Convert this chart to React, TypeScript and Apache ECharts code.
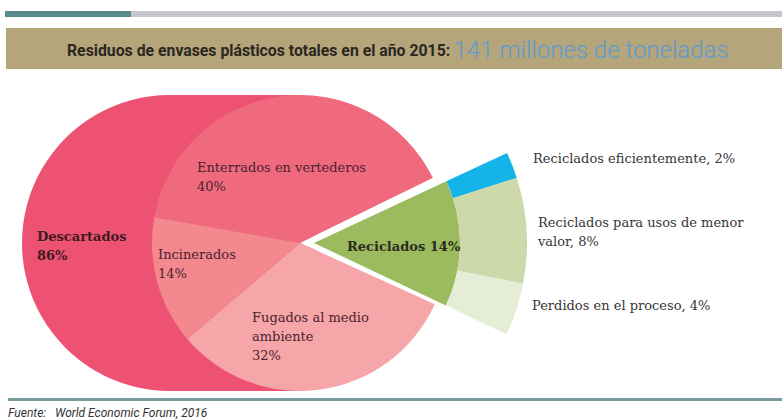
import React, { useEffect, useRef } from "react";
import * as echarts from "echarts";

// ---------- data ----------
const mainNames = ["Enterrados en vertederos", "Reciclados", "Fugados al medio ambiente", "Incinerados"];
const mainValues = [40, 14, 32, 14];
const discardedName = "Descartados";
const discardedValue = 86;
const recycledName = "Reciclados";
const recycledValue = 14;
const breakdownNames = ["Reciclados eficientemente", "Reciclados para usos de menor valor", "Perdidos en el proceso"];
const breakdownValues = [2, 8, 4];
const titleMain = "Residuos de envases plásticos totales en el año 2015:";
const titleValue = "141 millones de toneladas";
const sourceText = "Fuente:   World Economic Forum, 2016";

// ---------- styles ----------
const C_DISC = "#ee5273";
const C_ENT = "#f06a7e";
const C_INC = "#f3888f";
const C_FUG = "#f6a5a9";
const C_GREEN = "#9bbb5e";
const C_BLUE = "#14b3e8";
const C_MENOR = "#cdd9ab";
const C_PERD = "#e5edd6";
const TRANSPARENT = "rgba(0,0,0,0)";

const SERIF = "'DejaVu Serif', serif";

export default function App() {
  const ref = useRef<HTMLDivElement>(null);

  useEffect(() => {
    document.body.style.margin = "0";
    if (!ref.current) return;
    const chart = echarts.init(ref.current, null, { renderer: "svg" });

    const pieBase = {
      type: "pie" as const,
      silent: true,
      label: { show: false },
      labelLine: { show: false },
      emphasis: { disabled: true },
      clockwise: true,
      avoidLabelOverlap: false,
    };

    const mainColors = [C_ENT, "#ffffff", C_FUG, C_INC];
    const breakdownColors = [C_BLUE, C_MENOR, C_PERD];
    const restOfRing = 100 - recycledValue;

    const labelStyle = { fontFamily: SERIF, fontSize: 13, fill: "#4a222c", lineHeight: 19 };
    const rightStyle = { fontFamily: SERIF, fontSize: 13, fill: "#363636", lineHeight: 19 };

    const option: any = {
      animation: false,
      backgroundColor: "#ffffff",
      series: [
        {
          ...pieBase,
          z: 1,
          center: [170, 243],
          radius: 148,
          data: [{ name: discardedName, value: discardedValue, itemStyle: { color: C_DISC, borderWidth: 0 } }],
        },
        {
          ...pieBase,
          z: 3,
          center: [300, 243],
          radius: 148,
          startAngle: 170,
          data: mainNames.map((n, i) => ({
            name: n,
            value: mainValues[i],
            itemStyle: { color: mainColors[i], borderWidth: 0 },
          })),
        },
        {
          ...pieBase,
          z: 4,
          center: [314, 243],
          radius: [0, 146],
          startAngle: 25,
          data: [
            { name: recycledName, value: recycledValue, itemStyle: { color: C_GREEN, borderWidth: 0 } },
            { name: "_rest", value: restOfRing, itemStyle: { color: TRANSPARENT, borderWidth: 0 } },
          ],
        },
        {
          ...pieBase,
          z: 4,
          center: [314, 243],
          radius: [146, 213],
          startAngle: 25,
          data: [
            ...breakdownNames.map((n, i) => ({
              name: n,
              value: breakdownValues[i],
              itemStyle: { color: breakdownColors[i], borderWidth: 0 },
            })),
            { name: "_rest", value: restOfRing, itemStyle: { color: TRANSPARENT, borderWidth: 0 } },
          ],
        },
      ],
      graphic: [
        // top bars
        { type: "rect", z: 0, shape: { x: 5, y: 11, width: 126, height: 6 }, style: { fill: "#588b8d" } },
        { type: "rect", z: 0, shape: { x: 131, y: 11, width: 651, height: 6 }, style: { fill: "#c5c6cc" } },
        // header band
        { type: "rect", z: 0, shape: { x: 6, y: 28, width: 776, height: 41 }, style: { fill: "#b4a57b" } },
        {
          type: "text",
          z: 10,
          x: 67,
          y: 50,
          style: {
            text: `{a|${titleMain}} {b|${titleValue}}`,
            verticalAlign: "middle",
            rich: {
              a: { fontFamily: "Roboto", fontWeight: "bold", fontSize: 15.8, fill: "#2b2620" },
              b: { fontFamily: "Roboto", fontWeight: 300, fontSize: 24, fill: "#5d9bd2" },
            },
          },
        },
        // connector of the "Descartados" shape
        { type: "rect", z: 1, shape: { x: 170, y: 95, width: 130, height: 296 }, style: { fill: C_DISC } },
        // labels
        {
          type: "text", z: 10, x: 37, y: 246,
          style: { ...labelStyle, fontWeight: "bold", fill: "#3e1a22", text: `${discardedName}\n${discardedValue}%`, verticalAlign: "middle" },
        },
        {
          type: "text", z: 10, x: 197, y: 177,
          style: { ...labelStyle, text: `${mainNames[0]}\n${mainValues[0]}%`, verticalAlign: "middle" },
        },
        {
          type: "text", z: 10, x: 158, y: 264,
          style: { ...labelStyle, text: `${mainNames[3]}\n${mainValues[3]}%`, verticalAlign: "middle" },
        },
        {
          type: "text", z: 10, x: 252, y: 336,
          style: { ...labelStyle, text: `Fugados al medio\nambiente\n${mainValues[2]}%`, verticalAlign: "middle" },
        },
        {
          type: "text", z: 10, x: 347, y: 246,
          style: { ...labelStyle, fontWeight: "bold", fill: "#2c2a20", text: `${recycledName} ${recycledValue}%`, verticalAlign: "middle" },
        },
        {
          type: "text", z: 10, x: 533, y: 158,
          style: { ...rightStyle, text: `${breakdownNames[0]}, ${breakdownValues[0]}%`, verticalAlign: "middle" },
        },
        {
          type: "text", z: 10, x: 538, y: 232,
          style: { ...rightStyle, text: `Reciclados para usos de menor\nvalor, ${breakdownValues[1]}%`, verticalAlign: "middle" },
        },
        {
          type: "text", z: 10, x: 532, y: 305,
          style: { ...rightStyle, text: `${breakdownNames[2]}, ${breakdownValues[2]}%`, verticalAlign: "middle" },
        },
        // footer
        { type: "rect", z: 10, shape: { x: 8, y: 398, width: 774, height: 3 }, style: { fill: "#789a9d" } },
        {
          type: "text", z: 10, x: 8, y: 413,
          style: { text: sourceText, fontFamily: "Roboto", fontStyle: "italic", fontSize: 12, fill: "#333333", verticalAlign: "middle" },
        },
      ],
    };

    chart.setOption(option);
    return () => chart.dispose();
  }, []);

  return <div ref={ref} style={{ width: 782, height: 420 }} />;
}
